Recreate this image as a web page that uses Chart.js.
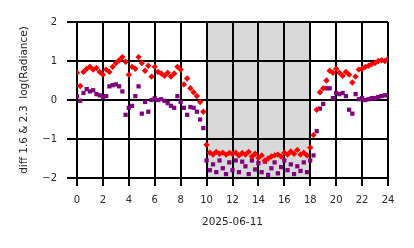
<!DOCTYPE html>
<html lang="en">
<head>
    <meta charset="UTF-8">
    <title>diff 1.6 & 2.3 log(Radiance)</title>
    <script src="https://cdn.jsdelivr.net/npm/chart.js"></script>
    <style>
        body {
            margin: 0;
            padding: 0;
            background-color: #fff;
        }
    </style>
</head>
<body>
    <canvas id="diffChart" width="414" height="248"></canvas>

    <script>
        // hour of day (UTC), one reading every 15 min
        const hours = [
            0, 0.25, 0.5, 0.75, 1, 1.25, 1.5, 1.75, 2, 2.25, 2.5, 2.75,
            3, 3.25, 3.5, 3.75, 4, 4.25, 4.5, 4.75, 5, 5.25, 5.5, 5.75,
            6, 6.25, 6.5, 6.75, 7, 7.25, 7.5, 7.75, 8, 8.25, 8.5, 8.75,
            9, 9.25, 9.5, 9.75, 10, 10.25, 10.5, 10.75, 11, 11.25, 11.5, 11.75,
            12, 12.25, 12.5, 12.75, 13, 13.25, 13.5, 13.75, 14, 14.25, 14.5, 14.75,
            15, 15.25, 15.5, 15.75, 16, 16.25, 16.5, 16.75, 17, 17.25, 17.5, 17.75,
            18, 18.25, 18.5, 18.75, 19, 19.25, 19.5, 19.75, 20, 20.25, 20.5, 20.75,
            21, 21.25, 21.5, 21.75, 22, 22.25, 22.5, 22.75, 23, 23.25, 23.5, 23.75, 24
        ];

        // red diamonds
        const diffA = [
            0.70, 0.36, 0.72, 0.80, 0.85, 0.78, 0.82, 0.72, 0.65, 0.78, 0.72, 0.85,
            0.95, 1.02, 1.10, 0.98, 0.65, 0.85, 0.80, 1.10, 0.95, 0.75, 0.88, 0.60,
            0.85, 0.72, 0.68, 0.62, 0.70, 0.60, 0.68, 0.85, 0.78, 0.40, 0.55, 0.30,
            0.20, 0.10, -0.05, -0.30, -1.15, -1.35, -1.40, -1.33, -1.38, -1.35, -1.40, -1.36,
            -1.38, -1.35, -1.42, -1.36, -1.40, -1.33, -1.45, -1.38, -1.48, -1.42, -1.55, -1.50,
            -1.45, -1.42, -1.40, -1.45, -1.35, -1.40, -1.32, -1.38, -1.28, -1.40, -1.35, -1.42,
            -1.22, -0.90, -0.25, 0.20, 0.30, 0.50, 0.75, 0.70, 0.80, 0.70, 0.62, 0.72,
            0.65, 0.45, 0.60, 0.78, 0.80, 0.85, 0.88, 0.92, 0.95, 1.00, 1.02, 1.00, 1.05
        ];

        // purple squares
        const diffB = [
            0.10, -0.02, 0.18, 0.28, 0.22, 0.25, 0.15, 0.12, 0.08, 0.10, 0.35, 0.38,
            0.40, 0.35, 0.22, -0.38, -0.20, -0.15, 0.10, 0.35, -0.35, -0.05, -0.30, 0.00,
            0.05, 0.00, 0.02, -0.02, -0.08, -0.15, -0.20, 0.10, -0.05, -0.20, -0.38, -0.18,
            -0.20, -0.30, -0.50, -0.72, -1.55, -1.80, -1.65, -1.85, -1.55, -1.75, -1.90, -1.60,
            -1.80, -1.55, -1.85, -1.58, -1.70, -1.90, -1.55, -1.78, -1.62, -1.85, -1.58, -1.92,
            -1.75, -1.60, -1.88, -1.72, -1.55, -1.80, -1.65, -1.90, -1.70, -1.82, -1.60, -1.85,
            -1.55, -1.42, -0.80, -0.22, -0.10, 0.30, 0.30, 0.05, 0.18, 0.15, 0.18, 0.10,
            -0.25, -0.35, 0.15, 0.02, 0.05, 0.00, 0.02, 0.05, 0.05, 0.08, 0.10, 0.12, 0.12
        ];

        // daylight window (hours)
        const dayStart = 10;
        const dayEnd = 18;

        const xTicks = [0, 2, 4, 6, 8, 10, 12, 14, 16, 18, 20, 22, 24];
        const yTicks = [-2, -1, 0, 1, 2];

        const textColor = '#262626';

        // grey band drawn before the grid so the grid sits on top
        const dayBand = {
            id: 'dayBand',
            beforeDraw(chart) {
                const { ctx, chartArea, scales } = chart;
                const x0 = scales.x.getPixelForValue(dayStart);
                const x1 = scales.x.getPixelForValue(dayEnd);
                ctx.save();
                ctx.fillStyle = '#d9d9d9';
                ctx.fillRect(x0, chartArea.top, x1 - x0, chartArea.bottom - chartArea.top);
                ctx.restore();
            }
        };

        const ctx = document.getElementById('diffChart').getContext('2d');
        const diffChart = new Chart(ctx, {
            type: 'scatter',
            data: {
                datasets: [{
                    label: 'diff A',
                    data: hours.map((h, i) => ({ x: h, y: diffA[i] })),
                    pointStyle: 'rectRot',
                    pointRadius: 3.2,
                    backgroundColor: '#ff0000',
                    borderWidth: 0
                }, {
                    label: 'diff B',
                    data: hours.map((h, i) => ({ x: h, y: diffB[i] })),
                    pointStyle: 'rect',
                    pointRadius: 3.0,
                    backgroundColor: '#800080',
                    borderWidth: 0
                }]
            },
            options: {
                responsive: false,
                animation: false,
                layout: {
                    padding: { left: 0, top: 22, right: 26, bottom: 0 }
                },
                plugins: {
                    legend: { display: false },
                    tooltip: { enabled: false }
                },
                scales: {
                    x: {
                        type: 'linear',
                        min: 0,
                        max: 24,
                        afterBuildTicks: (scale) => { scale.ticks = xTicks.map(v => ({ value: v })); },
                        afterFit: (scale) => { scale.height = 70; },
                        grid: { color: '#000', lineWidth: 2, tickLength: 8, tickColor: '#000' },
                        border: { color: '#000', width: 2 },
                        ticks: {
                            color: textColor,
                            padding: 8,
                            maxRotation: 0,
                            autoSkip: false,
                            font: { family: 'DejaVu Sans', size: 10 }
                        },
                        title: {
                            display: true,
                            text: '2025-06-11',
                            color: textColor,
                            padding: { top: 0, bottom: 19 },
                            font: { family: 'DejaVu Sans', size: 10.5 }
                        }
                    },
                    y: {
                        type: 'linear',
                        min: -2,
                        max: 2,
                        afterBuildTicks: (scale) => { scale.ticks = yTicks.map(v => ({ value: v })); },
                        afterFit: (scale) => { scale.width = 77; },
                        grid: { color: '#000', lineWidth: 2, tickLength: 10, tickColor: '#000' },
                        border: { color: '#000', width: 2 },
                        ticks: {
                            color: textColor,
                            padding: 10,
                            font: { family: 'DejaVu Sans', size: 10 },
                            callback: (v) => String(v).replace('-', '\u2212')
                        },
                        title: {
                            display: true,
                            text: 'diff 1.6 & 2.3  log(Radiance)',
                            color: textColor,
                            padding: { top: 18, bottom: 0 },
                            font: { family: 'DejaVu Sans', size: 10.5 }
                        }
                    }
                }
            },
            plugins: [dayBand]
        });
    </script>
</body>
</html>
